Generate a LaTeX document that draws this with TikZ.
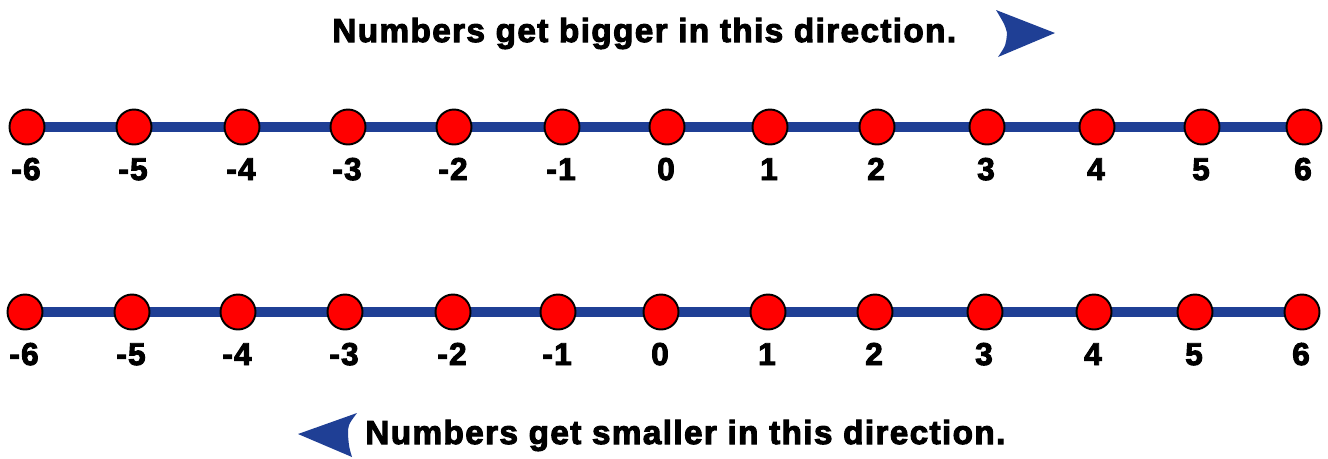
\documentclass[tikz,border=0pt]{standalone}
\usepackage{fontspec}
\setmainfont{Liberation Sans}
\newfontfamily\heavyfont{Liberation Sans}[UprightFont={* Bold},FakeBold=3,LetterSpace=4]
\usetikzlibrary{backgrounds}
\definecolor{lineblue}{HTML}{1F3F95}
\definecolor{dotred}{HTML}{FF0000}
\tikzset{numline/.style={lineblue,line width=5.7pt},
  dot/.style={circle,draw=black,fill=dotred,line width=1.1pt,minimum size=0.7cm,inner sep=0pt},
  numlbl/.style={font=\heavyfont\fontsize{18}{20}\selectfont,inner sep=0pt},
  headtxt/.style={font=\heavyfont\fontsize{19}{22}\selectfont,inner sep=0pt},
  pointer/.style={fill=lineblue}}

\begin{document}
\begin{tikzpicture}[x=0.02cm,y=-0.02cm]
  \useasboundingbox (0,0) rectangle (1328,458);
  \node[headtxt,anchor=base west](tophead) at (332,42){Numbers get bigger in this direction.};
  \fill[pointer](996,10)--(1055,33)--(998,57)..controls(1006,45)..(1007,33)..controls(1005,25)..cycle;
  % both number lines
  \foreach \n/\xa/\xb [count=\i] in {-6/27/25,-5/134/132,-4/242/238,-3/348/345,-2/454/453,-1/562/558,
      0/667/661,1/770/768,2/877/875,3/987/985,4/1097/1094,5/1202/1195,6/1304/1302}{
    \node[dot](t\i) at (\xa,127){};
    \node[numlbl,anchor=base](tl\i) at (\xa-1,180){\n};
    \node[dot](b\i) at (\xb,312){};
    \node[numlbl,anchor=base](bl\i) at (\xb-1,365){\n};}
  \begin{scope}[on background layer]
    \draw[numline](t1.center)--(t13.center);
    \draw[numline](b1.center)--(b13.center);
  \end{scope}
  \node[headtxt,anchor=base west](bothead) at (365,444){Numbers get smaller in this direction.};
  \fill[pointer](298,434)--(357,413)..controls(348,425)..(348,435)..controls(349,447)..(352,457)--cycle;
\end{tikzpicture}
\end{document}
